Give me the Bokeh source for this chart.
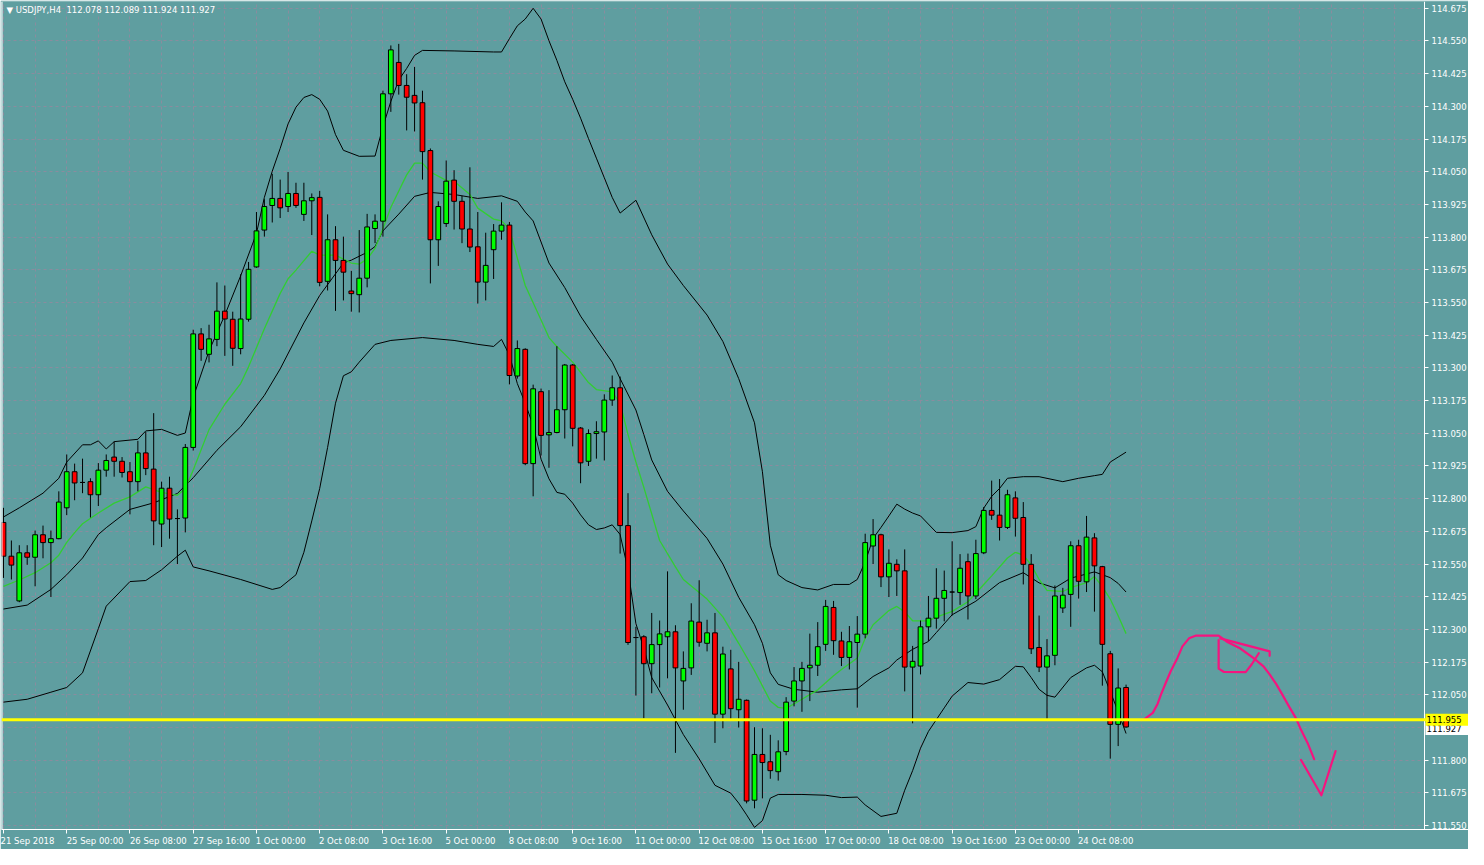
from bokeh.plotting import figure
from bokeh.models import Range1d, FixedTicker, Span, Label, PrintfTickFormatter, ColumnDataSource, BoxAnnotation
from bokeh.embed import file_html
from bokeh.resources import INLINE

# ---------------- data ----------------
symbol = "USDJPY,H4"

open_ = [112.709, 112.580, 112.409, 112.593, 112.576, 112.662, 112.632, 112.647, 112.765, 112.903,
         112.862, 112.865, 112.815, 112.909, 112.959, 112.943, 112.903, 112.865, 112.975, 112.913,
         112.703, 112.840, 112.724, 112.726, 112.996, 113.430, 113.352, 113.409, 113.517, 113.486,
         113.374, 113.486, 113.686, 113.827, 113.921, 113.948, 113.917, 113.967, 113.887, 113.939,
         113.952, 113.631, 113.790, 113.711, 113.594, 113.580, 113.643, 113.833, 113.861, 114.348,
         114.468, 114.380, 114.342, 114.314, 114.131, 113.790, 113.852, 114.018, 113.937, 113.831,
         113.763, 113.628, 113.752, 113.823, 113.846, 113.269, 113.371, 112.934, 113.209, 113.044,
         113.053, 113.140, 113.311, 113.070, 112.943, 113.049, 113.055, 113.177, 113.224, 112.697,
         112.269, 112.272, 112.169, 112.242, 112.272, 112.291, 112.103, 112.153, 112.328, 112.247,
         112.287, 111.976, 112.149, 111.993, 112.029, 111.647, 111.822, 111.794, 111.756, 111.833,
         112.026, 112.103, 112.153, 112.163, 112.243, 112.384, 112.256, 112.193, 112.250, 112.282,
         112.619, 112.662, 112.501, 112.549, 112.524, 112.156, 112.160, 112.310, 112.343, 112.419,
         112.443, 112.441, 112.559, 112.428, 112.593, 112.755, 112.737, 112.690, 112.803, 112.728,
         112.549, 112.231, 112.156, 112.201, 112.382, 112.434, 112.620, 112.482, 112.650, 112.540,
         112.207, 111.937, 112.078]
high = [112.765, 112.640, 112.622, 112.622, 112.678, 112.697, 112.678, 112.828, 112.969, 112.934,
        112.953, 112.878, 112.936, 112.969, 113.018, 112.959, 112.940, 113.021, 113.055, 113.127,
        112.865, 112.884, 112.759, 113.009, 113.446, 113.452, 113.465, 113.627, 113.615, 113.515,
        113.658, 113.705, 113.896, 113.945, 114.042, 114.020, 114.049, 114.008, 114.008, 113.967,
        113.977, 113.887, 113.842, 113.802, 113.671, 113.827, 113.889, 113.887, 114.360, 114.533,
        114.539, 114.423, 114.451, 114.360, 114.139, 113.937, 114.093, 114.056, 113.958, 114.067,
        113.896, 113.817, 113.850, 113.933, 113.858, 113.405, 113.375, 113.236, 113.221, 113.215,
        113.383, 113.315, 113.315, 113.074, 113.065, 113.096, 113.199, 113.271, 113.267, 112.821,
        112.310, 112.278, 112.363, 112.334, 112.522, 112.316, 112.216, 112.400, 112.488, 112.337,
        112.363, 112.234, 112.222, 112.176, 112.032, 111.926, 111.922, 111.897, 111.876, 112.041,
        112.156, 112.176, 112.284, 112.328, 112.413, 112.409, 112.291, 112.313, 112.351, 112.666,
        112.722, 112.666, 112.606, 112.568, 112.606, 112.237, 112.334, 112.428, 112.534, 112.525,
        112.637, 112.588, 112.590, 112.643, 112.768, 112.869, 112.875, 112.834, 112.828, 112.787,
        112.588, 112.353, 112.263, 112.468, 112.459, 112.637, 112.643, 112.734, 112.668, 112.543,
        112.218, 112.151, 112.089]
low = [112.497, 112.491, 112.404, 112.547, 112.465, 112.572, 112.424, 112.645, 112.737, 112.794,
       112.821, 112.728, 112.772, 112.884, 112.884, 112.881, 112.740, 112.828, 112.890, 112.622,
       112.615, 112.647, 112.550, 112.671, 112.984, 113.327, 113.321, 113.383, 113.346, 113.308,
       113.352, 113.477, 113.683, 113.802, 113.856, 113.873, 113.896, 113.912, 113.862, 113.808,
       113.612, 113.596, 113.518, 113.558, 113.515, 113.512, 113.608, 113.777, 113.802, 114.279,
       114.345, 114.208, 114.204, 114.020, 113.623, 113.690, 113.839, 113.829, 113.777, 113.743,
       113.546, 113.558, 113.640, 113.790, 113.237, 113.259, 112.928, 112.809, 112.965, 112.918,
       113.050, 113.030, 113.000, 112.859, 112.925, 112.953, 112.946, 113.155, 112.590, 112.241,
       112.047, 111.960, 112.056, 112.078, 112.113, 111.828, 111.993, 112.126, 112.234, 112.216,
       111.866, 111.922, 111.950, 111.925, 111.635, 111.616, 111.654, 111.729, 111.722, 111.819,
       112.006, 111.985, 112.026, 112.122, 112.218, 112.203, 112.160, 112.147, 112.001, 112.266,
       112.550, 112.462, 112.424, 112.428, 112.063, 111.941, 112.128, 112.256, 112.303, 112.331,
       112.353, 112.394, 112.338, 112.416, 112.588, 112.719, 112.640, 112.684, 112.655, 112.472,
       112.206, 112.137, 111.950, 112.163, 112.363, 112.310, 112.418, 112.443, 112.368, 112.085,
       111.806, 111.854, 111.924]
close = [112.580, 112.546, 112.593, 112.576, 112.662, 112.632, 112.647, 112.787, 112.903, 112.860,
         112.862, 112.815, 112.909, 112.946, 112.943, 112.900, 112.865, 112.975, 112.915, 112.715,
         112.840, 112.722, 112.724, 112.996, 113.430, 113.371, 113.411, 113.517, 113.487, 113.375,
         113.487, 113.677, 113.824, 113.917, 113.948, 113.912, 113.967, 113.921, 113.939, 113.951,
         113.627, 113.790, 113.711, 113.666, 113.584, 113.643, 113.839, 113.861, 114.348, 114.516,
         114.380, 114.335, 114.313, 114.127, 113.790, 113.917, 114.014, 113.937, 113.831, 113.762,
         113.628, 113.692, 113.823, 113.846, 113.271, 113.374, 112.934, 113.220, 113.042, 113.053,
         113.140, 113.311, 113.069, 112.937, 113.049, 113.056, 113.177, 113.224, 112.697, 112.250,
         112.269, 112.169, 112.242, 112.283, 112.291, 112.153, 112.151, 112.332, 112.251, 112.287,
         111.976, 112.206, 111.997, 112.033, 111.644, 111.822, 111.791, 111.760, 111.832, 112.022,
         112.103, 112.151, 112.163, 112.234, 112.388, 112.257, 112.193, 112.253, 112.282, 112.632,
         112.662, 112.501, 112.553, 112.524, 112.156, 112.178, 112.310, 112.343, 112.419, 112.449,
         112.443, 112.534, 112.428, 112.590, 112.755, 112.737, 112.690, 112.815, 112.725, 112.549,
         112.226, 112.156, 112.199, 112.428, 112.431, 112.620, 112.484, 112.653, 112.543, 112.243,
         111.937, 112.076, 111.927]

# Bollinger bands (20) and moving average (bar index, price)
upper_bar = [0, 2, 5, 7, 8, 10, 11, 12, 13, 14, 17, 18, 20, 22, 23, 24, 26, 28, 30, 32, 33, 34, 35, 36, 37,
             38, 39, 40, 41, 42, 43, 45, 47, 48, 49, 50, 51, 52, 53, 57, 62, 63, 64, 65, 66, 67, 68, 69,
             70, 71, 72, 73, 74, 75, 76, 77, 78, 80, 82, 84, 86, 89, 91, 93, 95, 96, 97, 98, 99, 101, 103,
             105, 107, 108, 109, 110, 111, 112, 113, 114, 115, 116, 118, 120, 122, 123, 124, 125, 126,
             127, 129, 131, 134, 136, 138, 139, 140, 141, 142]
upper_val = [112.730, 112.765, 112.821, 112.878, 112.940, 113.006, 113.006, 113.021, 112.990, 113.018,
             113.027, 113.059, 113.065, 113.042, 113.051, 113.187, 113.365, 113.502, 113.652, 113.814,
             113.952, 114.052, 114.139, 114.233, 114.297, 114.334, 114.345, 114.327, 114.282, 114.192,
             114.132, 114.109, 114.110, 114.222, 114.319, 114.401, 114.445, 114.495, 114.514, 114.512,
             114.508, 114.508, 114.559, 114.608, 114.634, 114.675, 114.634, 114.551, 114.476, 114.394,
             114.327, 114.255, 114.177, 114.102, 114.027, 113.952, 113.892, 113.941, 113.809, 113.697,
             113.615, 113.502, 113.401, 113.259, 113.090, 112.903, 112.622, 112.509, 112.487, 112.460,
             112.451, 112.472, 112.472, 112.491, 112.558, 112.648, 112.690, 112.734, 112.779, 112.760,
             112.745, 112.734, 112.671, 112.670, 112.678, 112.693, 112.764, 112.809, 112.839, 112.878,
             112.884, 112.884, 112.865, 112.878, 112.888, 112.893, 112.940, 112.959, 112.978]

middle_bar = [0, 3, 6, 8, 10, 12, 13, 16, 19, 22, 24, 27, 30, 33, 35, 38, 40, 43, 44, 46, 47, 48, 50, 52,
              54, 57, 60, 63, 65, 66, 67, 69, 71, 73, 75, 77, 78, 80, 81, 82, 84, 86, 89, 91, 93, 95, 96,
              97, 98, 100, 103, 106, 108, 110, 112, 113, 115, 117, 118, 120, 123, 126, 129, 131, 133,
              135, 138, 140, 141, 142]
middle_val = [112.378, 112.393, 112.453, 112.509, 112.573, 112.663, 112.689, 112.759, 112.784, 112.820,
              112.880, 112.985, 113.075, 113.195, 113.296, 113.472, 113.577, 113.701, 113.712, 113.742,
              113.764, 113.824, 113.888, 113.956, 113.971, 113.963, 113.948, 113.958, 113.937, 113.896,
              113.862, 113.701, 113.607, 113.498, 113.409, 113.322, 113.259, 113.139, 113.045, 112.948,
              112.828, 112.753, 112.648, 112.550, 112.423, 112.318, 112.247, 112.134, 112.090, 112.071,
              112.060, 112.069, 112.073, 112.120, 112.153, 112.183, 112.224, 112.254, 112.288, 112.356,
              112.408, 112.479, 112.517, 112.478, 112.459, 112.496, 112.520, 112.498, 112.476, 112.443]

lower_bar = [0, 3, 6, 8, 10, 12, 13, 16, 18, 20, 22, 23, 24, 26, 30, 34, 35, 37, 38, 39, 40, 41, 42, 43,
             44, 45, 47, 49, 53, 57, 60, 62, 63, 64, 65, 66, 67, 68, 69, 70, 71, 72, 73, 74, 75, 76, 77,
             78, 79, 80, 81, 82, 84, 86, 88, 90, 92, 93, 94, 95, 96, 97, 98, 101, 104, 106, 108, 109,
             111, 113, 114, 115, 116, 117, 118, 119, 120, 122, 124, 126, 128, 129, 130, 131, 132, 133,
             135, 137, 138, 139, 140, 141, 142]
lower_val = [112.022, 112.033, 112.060, 112.078, 112.134, 112.303, 112.389, 112.483, 112.487, 112.528,
             112.580, 112.603, 112.539, 112.524, 112.491, 112.453, 112.460, 112.509, 112.595, 112.715,
             112.839, 112.996, 113.165, 113.270, 113.285, 113.322, 113.390, 113.405, 113.416, 113.405,
             113.390, 113.382, 113.409, 113.349, 113.240, 113.165, 113.079, 112.951, 112.876, 112.824,
             112.817, 112.783, 112.738, 112.700, 112.682, 112.688, 112.700, 112.663, 112.528, 112.322,
             112.228, 112.116, 112.011, 111.898, 111.805, 111.704, 111.674, 111.636, 111.591, 111.543,
             111.569, 111.655, 111.669, 111.669, 111.666, 111.657, 111.659, 111.629, 111.585, 111.597,
             111.685, 111.760, 111.846, 111.910, 111.955, 112.000, 112.045, 112.097, 112.091, 112.108,
             112.159, 112.157, 112.116, 112.071, 112.048, 112.041, 112.116, 112.153, 112.163, 112.138,
             112.063, 111.985, 111.902]

ma_bar = [0, 2, 4, 6, 7, 8, 9, 10, 12, 14, 16, 18, 20, 22, 23, 24, 26, 28, 30, 31, 33, 35, 36, 37, 39,
          40, 42, 44, 45, 46, 47, 48, 49, 51, 52, 53, 54, 56, 57, 59, 60, 62, 63, 64, 65, 66, 68, 69,
          70, 72, 74, 75, 77, 78, 79, 80, 81, 83, 85, 86, 89, 91, 93, 95, 97, 98, 99, 101, 103, 105,
          106, 108, 109, 110, 112, 113, 114, 115, 117, 118, 120, 122, 124, 125, 127, 128, 129, 130,
          131, 132, 134, 135, 137, 138, 139, 140, 141, 142]
ma_val = [112.465, 112.489, 112.517, 112.555, 112.584, 112.633, 112.670, 112.704, 112.745, 112.783,
          112.807, 112.845, 112.824, 112.813, 112.839, 112.910, 113.064, 113.161, 113.240, 113.304,
          113.450, 113.585, 113.641, 113.674, 113.746, 113.731, 113.731, 113.701, 113.697, 113.716,
          113.757, 113.832, 113.914, 114.038, 114.083, 114.083, 114.049, 114.017, 114.014, 113.963,
          113.911, 113.869, 113.862, 113.832, 113.720, 113.615, 113.483, 113.416, 113.382, 113.322,
          113.244, 113.217, 113.208, 113.165, 113.045, 112.940, 112.843, 112.640, 112.539, 112.491,
          112.416, 112.348, 112.247, 112.142, 112.026, 112.002, 111.998, 112.033, 112.069, 112.123,
          112.147, 112.191, 112.266, 112.318, 112.372, 112.388, 112.367, 112.333, 112.333, 112.347,
          112.369, 112.406, 112.472, 112.505, 112.573, 112.595, 112.584, 112.547, 112.491, 112.449,
          112.445, 112.460, 112.479, 112.502, 112.464, 112.416, 112.352, 112.284]

# horizontal support level
level_price = 111.955

# hand-drawn forecast strokes (bar index, price)
stroke_bars = [
    [144.21, 145.38, 146.0, 146.41, 147.04, 147.66, 148.5, 149.13, 149.96, 150.79, 153.71, 154.75,
     156.41, 158.09, 159.34, 160.16, 161.0, 161.84, 162.66, 163.5, 164.13, 164.96, 165.79],
    [153.71, 153.71, 154.34, 157.13, 157.88, 158.79],
    [153.91, 160.16, 160.16],
    [164.13, 166.71, 168.5],
]
stroke_prices = [
    [111.954, 111.981, 112.016, 112.051, 112.097, 112.141, 112.191, 112.235, 112.266, 112.276, 112.276,
     112.253, 112.228, 112.191, 112.160, 112.128, 112.091, 112.047, 112.003, 111.960, 111.916, 111.866,
     111.804],
    [112.259, 112.150, 112.138, 112.137, 112.166, 112.209],
    [112.266, 112.216, 112.199],
    [111.801, 111.666, 111.835],
]

x_tick_bars = [0, 8, 16, 24, 32, 40, 48, 56, 64, 72, 80, 88, 96, 104, 112, 120, 128, 136]
x_tick_text = ["21 Sep 2018", "25 Sep 00:00", "26 Sep 08:00", "27 Sep 16:00", "1 Oct 00:00",
               "2 Oct 08:00", "3 Oct 16:00", "5 Oct 00:00", "8 Oct 08:00", "9 Oct 16:00",
               "11 Oct 00:00", "12 Oct 08:00", "15 Oct 16:00", "17 Oct 00:00", "18 Oct 08:00",
               "19 Oct 16:00", "23 Oct 00:00", "24 Oct 08:00"]
price_levels = [111.550, 111.675, 111.800, 111.925, 112.050, 112.175, 112.300, 112.425, 112.550,
                112.675, 112.800, 112.925, 113.050, 113.175, 113.300, 113.425, 113.550, 113.675,
                113.800, 113.925, 114.050, 114.175, 114.300, 114.425, 114.550, 114.675]

# ---------------- styling ----------------
BG = "#5F9EA0"
GRID = "#8a8c9e"
FONT = "DejaVu Sans"
FS = "8.5px"
NB = "\u00a0"

W, H = 1468, 849
SCALE_W = 44                          # width kept for the price scale
X0 = -0.25
X_AXIS = 179.75                       # where the price scale sits
PX_PER_BAR = (W - 1 - SCALE_W) / (X_AXIS - X0)
X1 = X0 + (W - 1) / PX_PER_BAR        # frame spans the full width
Y0, Y1 = 111.535, 114.701

p = figure(width=W, height=H, output_backend="svg", toolbar_location=None,
           x_range=Range1d(X0, X1), y_range=Range1d(Y0, Y1), y_axis_location="right",
           min_border_left=1, min_border_top=1, min_border_right=0, min_border_bottom=20,
           background_fill_color=BG, border_fill_color=BG, outline_line_color=None)

p.xgrid.ticker = FixedTicker(ticks=list(range(0, 180, 4)))
p.ygrid.ticker = FixedTicker(ticks=price_levels)
p.grid.grid_line_color = GRID
p.grid.grid_line_dash = "3 3"
p.grid.grid_line_width = 1

# price-scale strip (no grid there)
p.add_layout(BoxAnnotation(left=X_AXIS, fill_color=BG, fill_alpha=1.0, line_color=None, level="underlay"))
# chart frame: left edge
p.add_layout(Span(location=X0, dimension="height", line_color="white", line_width=2))

axis_levels = [v for v in price_levels if abs(v - 111.925) > 1e-6]
p.yaxis.ticker = FixedTicker(ticks=axis_levels)
p.yaxis.formatter = PrintfTickFormatter(format="%.3f")
p.yaxis.fixed_location = X_AXIS
p.yaxis.major_label_standoff = 3

# left-anchored date labels: pad each centred label on the left by its own width
EM = {"0": .636, "1": .636, "2": .636, "3": .636, "4": .636, "5": .636, "6": .636, "7": .636,
      "8": .636, "9": .636, " ": .318, ":": .337, "S": .635, "e": .615, "p": .635, "O": .787,
      "c": .550, "t": .392}
def pad_left(s):
    w = sum(EM.get(ch, .6) for ch in s)
    return NB * int(round(w / .318)) + s.replace(" ", NB)

overrides = {}
for k, (b, t) in enumerate(zip(x_tick_bars, x_tick_text)):
    # the first label is pushed inside the edge by Bokeh itself
    overrides[b] = t.replace(" ", NB) if k == 0 else pad_left(t)

p.xaxis.ticker = FixedTicker(ticks=x_tick_bars)
p.xaxis.major_label_overrides = overrides
p.xaxis.major_label_standoff = 2
for ax in (p.xaxis, p.yaxis):
    ax.axis_line_color = "white"
    ax.major_tick_line_color = "white"
    ax.major_tick_out = 4
    ax.major_tick_in = 0
    ax.minor_tick_line_color = None
    ax.major_label_text_color = "white"
    ax.major_label_text_font = FONT
    ax.major_label_text_font_size = FS

# bands and MA
p.line(upper_bar, upper_val, line_color="black", line_width=1)
p.line(middle_bar, middle_val, line_color="black", line_width=1)
p.line(lower_bar, lower_val, line_color="black", line_width=1)
p.line(ma_bar, ma_val, line_color="#32CD32", line_width=1.3)

# candles
idx = list(range(len(open_)))
tops = [max(o, c) for o, c in zip(open_, close)]
bots = [min(o, c) for o, c in zip(open_, close)]
cols = ["#00FF00" if c > o else ("#FF0000" if c < o else "black") for o, c in zip(open_, close)]
src = ColumnDataSource(dict(x=idx, hi=high, lo=low, top=tops, bot=bots, col=cols))
p.segment(x0="x", y0="lo", x1="x", y1="hi", source=src, line_color="black", line_width=1)
p.vbar(x="x", width=0.6, top="top", bottom="bot", source=src,
       fill_color="col", line_color="black", line_width=1)

# yellow support line
p.add_layout(Span(location=level_price, dimension="width", line_color="#FFFF00", line_width=3))

# hand-drawn forecast
p.multi_line(stroke_bars, stroke_prices, line_color="#F5147F", line_width=2.2,
             line_join="round", line_cap="round")

# header
header = "\u25BC" + NB + symbol + NB + NB + NB.join(f"{v:.3f}" for v in (open_[-1], high[-1], low[-1], close[-1]))
p.add_layout(Label(x=X0, y=Y1, x_offset=5, y_offset=-3, text=header, text_baseline="top",
                   text_align="left", text_color="white", text_font=FONT, text_font_size=FS))

# price tags on the scale
p.add_layout(Label(x=X_AXIS, y=close[-1], x_offset=1, y_offset=-2, text=f"{close[-1]:.3f}" + NB * 2,
                   text_baseline="middle", text_align="left", text_color="black",
                   text_font=FONT, text_font_size=FS, background_fill_color="white", padding=1))
p.add_layout(Label(x=X_AXIS, y=level_price, x_offset=1, text=f"{level_price:.3f}" + NB * 2,
                   text_baseline="middle", text_align="left", text_color="black",
                   text_font=FONT, text_font_size=FS, background_fill_color="#FFFF00", padding=1))

open("out.html", "w").write(file_html(p, INLINE))
